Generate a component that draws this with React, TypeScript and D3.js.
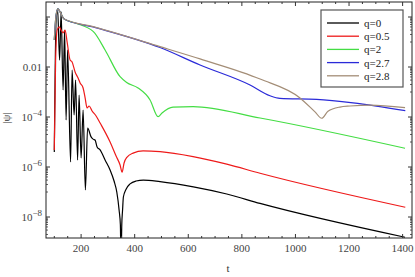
import React from "react";
import * as d3 from "d3";

// [t, |psi|]
const q0: [number, number][] = [
  [100, 4e-6], [106.7, 0.76], [112.3, 2.1], [119.8, 0.019], [125.4, 1.6],
  [132.8, 1.2e-3], [138.4, 0.3], [144, 7.6e-5], [149.6, 0.048], [160.8, 1.6e-6],
  [166.4, 7.6e-3], [173.9, 1.2e-4], [179.5, 3e-3], [186.9, 1.9e-6], [192.5, 7.6e-4],
  [200, 2.3e-6], [207.5, 1.9e-4], [216, 1.2e-7], [224.3, 3.6e-5], [237.3, 1.6e-5],
  [244.8, 1.3e-5], [252.2, 1.2e-5], [259.7, 6.3e-6], [270.9, 4.8e-6], [289.5, 1.9e-6],
  [308.2, 7.6e-7], [323, 2.75e-7], [333.2, 1.0e-7], [341.8, 1.9e-8], [346.6, 4.8e-9],
  [349.2, 1e-10], [351.8, 4.8e-9], [354.8, 1.9e-8], [357.8, 6.3e-8], [367.9, 1.3e-7],
  [382.8, 2.1e-7], [405.2, 2.75e-7], [432.4, 3.0e-7], [494.7, 2.6e-7], [619, 1.6e-7],
  [743.6, 8.3e-8], [867.8, 3.5e-8], [1409, 1.55e-9],
];

const q05: [number, number][] = [
  [100, 4.8e-6], [104.9, 0.019], [110.5, 0.3], [118, 0.4], [125.4, 0.3],
  [132.8, 0.23], [140.3, 0.3], [147.8, 0.1], [159, 0.019], [166.4, 0.0158],
  [177.6, 0.0063], [188.8, 0.0036], [196.3, 0.0023], [207.5, 0.00145], [215, 5.8e-4],
  [222.4, 2.3e-4], [229.8, 2.75e-4], [241, 1.74e-4], [256, 1.1e-4], [270.9, 5.75e-5],
  [308.2, 1e-5], [330.6, 2.75e-6], [345.5, 1.2e-6], [353, 6.2e-7], [360.4, 1.45e-6],
  [371.6, 2.5e-6], [394, 3.6e-6], [431.3, 4.4e-6], [494.7, 4.1e-6], [617.9, 2.6e-6],
  [743.6, 1.3e-6], [867.8, 5.6e-7], [1410, 2.45e-8],
];

const q2: [number, number][] = [
  [100, 0.12], [106.7, 1.2], [114, 2.1], [121.6, 1.6], [136.6, 0.83],
  [177.6, 0.575], [245.9, 0.26], [289.5, 0.048], [345.5, 0.0041], [370, 2.4e-3],
  [412.7, 1.45e-3], [457.4, 4.8e-4], [487.3, 1.03e-4], [502, 1.45e-4], [543, 2.5e-4],
  [618, 2.6e-4], [868, 9.1e-5], [1409, 5.6e-6],
];

const q27: [number, number][] = [
  [100, 0.12], [106.7, 1.2], [114, 2.1], [121.6, 1.6], [136.6, 0.83],
  [244.8, 0.4], [494.7, 0.06], [644, 0.012], [830.5, 1.9e-3], [905, 7.1e-4],
  [942, 5.6e-4], [1079, 5.1e-4], [1215, 3.7e-4], [1410, 1.8e-4],
];

const q28: [number, number][] = [
  [100, 0.12], [106.7, 1.2], [114, 2.1], [121.6, 1.6], [136.6, 0.83],
  [244.8, 0.41], [494.7, 0.065], [644, 0.021], [868, 3.3e-3], [1017, 5.8e-4],
  [1073, 1.6e-4], [1098, 8.9e-5], [1121.5, 1.7e-4], [1166, 2.5e-4], [1204, 2.75e-4],
  [1278, 3.0e-4], [1409, 2.35e-4],
];

const seriesNames = ["q=0", "q=0.5", "q=2", "q=2.7", "q=2.8"];
const seriesColors = ["#000000", "#ee1a1a", "#44dd44", "#2a2ad8", "#a38d76"];
const seriesData = [q0, q05, q2, q27, q28];

const xTickLabels = [200, 400, 600, 800, 1000, 1200, 1400];
const yLabelExps = [-2, -4, -6, -8];

const W = 415;
const H = 277;
const left = 46, right = 412, top = 2, bottom = 238;

export default function App() {
  const x = d3.scaleLinear().domain([69, 1435]).range([left, right]);
  const y = d3.scaleLog().domain([Math.pow(10, 0.6), Math.pow(10, -8.84)]).range([top, bottom]);

  const line = d3
    .line<[number, number]>()
    .x((d) => x(d[0]))
    .y((d) => y(d[1]))
    .curve(d3.curveMonotoneX);

  const minorX = d3.range(100, 1435, 50);
  const majorY: number[] = [];
  const minorY: number[] = [];
  for (let e = -9; e <= 0; e++) {
    if (e % 2 === 0) majorY.push(Math.pow(10, e));
    else minorY.push(Math.pow(10, e));
    for (let k = 2; k <= 9; k++) {
      if ((e + 1) % 2 === 0) minorY.push(k * Math.pow(10, e));
    }
  }
  const inY = (v: number) => v <= Math.pow(10, 0.6) && v >= Math.pow(10, -8.84);

  const font = "'Liberation Serif', 'DejaVu Serif', serif";
  const tickCol = "#333";

  return (
    <svg width={W} height={H} style={{ position: "absolute", left: 0, top: 0, background: "#fff" }}>
      <defs>
        <clipPath id="plot">
          <rect x={left} y={top} width={right - left} height={bottom - top} />
        </clipPath>
      </defs>

      {/* curves */}
      <g clipPath="url(#plot)">
        {seriesData.map((s, i) => (
          <path key={i} d={line(s) || ""} fill="none" stroke={seriesColors[i]} strokeWidth={1.2} />
        ))}
      </g>

      {/* frame */}
      <rect x={left} y={top} width={right - left} height={bottom - top} fill="none" stroke="#222" strokeWidth={1} />

      {/* x ticks */}
      {minorX.map((t) => {
        const major = t % 200 === 0;
        const len = major ? 4 : 2;
        return (
          <g key={"x" + t} stroke={tickCol} strokeWidth={1}>
            <line x1={x(t)} x2={x(t)} y1={bottom} y2={bottom - len} />
            <line x1={x(t)} x2={x(t)} y1={top} y2={top + len} />
          </g>
        );
      })}
      {xTickLabels.map((t) => (
        <text key={"xl" + t} x={x(t)} y={252} textAnchor="middle" fontFamily={font} fontSize={11} fill="#444">
          {t}
        </text>
      ))}

      {/* y ticks */}
      {majorY.filter(inY).map((v) => (
        <g key={"ym" + v} stroke={tickCol} strokeWidth={1}>
          <line x1={left} x2={left + 4} y1={y(v)} y2={y(v)} />
          <line x1={right} x2={right - 4} y1={y(v)} y2={y(v)} />
        </g>
      ))}
      {minorY.filter(inY).map((v) => (
        <g key={"yn" + v} stroke={tickCol} strokeWidth={0.8}>
          <line x1={left} x2={left + 2} y1={y(v)} y2={y(v)} />
          <line x1={right} x2={right - 2} y1={y(v)} y2={y(v)} />
        </g>
      ))}
      {yLabelExps.map((e) => {
        const yy = y(Math.pow(10, e)) + 4;
        if (e === -2)
          return (
            <text key={"yl" + e} x={42} y={yy} textAnchor="end" fontFamily={font} fontSize={11} fill="#444">
              0.01
            </text>
          );
        return (
          <text key={"yl" + e} x={42} y={yy} textAnchor="end" fontFamily={font} fontSize={11} fill="#444">
            10
            <tspan dy={-5} fontSize={9}>
              {"\u2212" + -e}
            </tspan>
          </text>
        );
      })}

      {/* axis labels */}
      <text x={228} y={272} textAnchor="middle" fontFamily={font} fontSize={11} fill="#333">
        t
      </text>
      <text
        transform="translate(10,118) rotate(-90)"
        textAnchor="middle"
        fontFamily={font}
        fontSize={11}
        fill="#333"
      >
        |ψ|
      </text>

      {/* legend */}
      <rect x={321} y={10} width={82} height={77} fill="#fff" stroke="#555" strokeWidth={1.2} />
      {seriesNames.map((n, i) => {
        const ly = 23 + i * 13.2;
        return (
          <g key={n}>
            <line x1={327} x2={359} y1={ly} y2={ly} stroke={seriesColors[i]} strokeWidth={1.3} />
            <text x={364} y={ly + 4} fontFamily={font} fontSize={11} fill="#222">
              {n}
            </text>
          </g>
        );
      })}
    </svg>
  );
}
